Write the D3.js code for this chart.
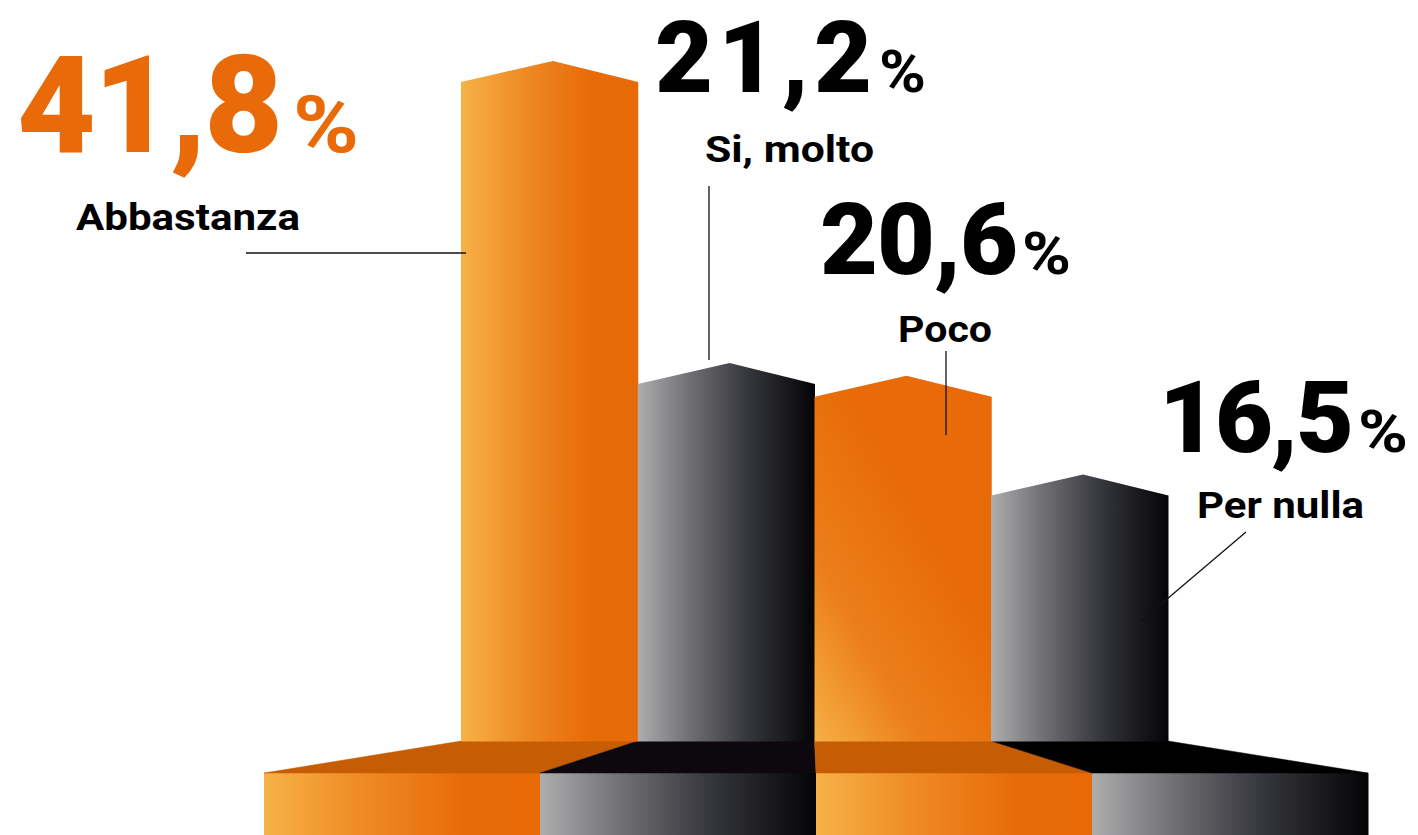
<!DOCTYPE html>
<html>
<head>
<meta charset="utf-8">
<script src="https://cdn.jsdelivr.net/npm/d3@7"></script>
<style>
  body { margin: 0; background: #fff; }
  svg { display: block; }
  text { font-family: Roboto, "Liberation Sans", sans-serif; }
</style>
</head>
<body>
<script>
// data
var categories = ["Abbastanza", "Si, molto", "Poco", "Per nulla"];
var values = [41.8, 21.2, 20.6, 16.5];

var width = 1418, height = 835;

var svg = d3.select("body").append("svg")
    .attr("width", width)
    .attr("height", height);

// scales
var x = d3.scaleBand().domain(categories).range([461, 1168]).padding(0);
var xBase = d3.scaleBand().domain(categories).range([264, 1368]).padding(0);
var y = d3.scaleLog().domain([9.5, 41.8]).range([741, 82]);
var floorY = 741, plinthY = 773, peak = 21;

// gradients
var defs = svg.append("defs");
function grad(id, stops, x1, y1, x2, y2) {
  var g = defs.append("linearGradient").attr("id", id)
      .attr("x1", x1).attr("y1", y1).attr("x2", x2).attr("y2", y2);
  stops.forEach(function(s) {
    g.append("stop").attr("offset", s[0]).attr("stop-color", s[1]);
  });
}
grad("orangeH", [[0, "#f6b247"], [0.35, "#ef8b24"], [0.72, "#e86b09"], [1, "#e76a07"]], 0, 0, 1, 0);
grad("grayH", [[0, "#adadae"], [0.3, "#6e6e73"], [0.62, "#35363b"], [1, "#040407"]], 0, 0, 1, 0);
grad("orangeD", [[0, "#f6b046"], [0.45, "#ec7f1a"], [1, "#e86a08"]], 0, 1, 0.55, 0.35);

var isOrange = function(i) { return i % 2 === 0; };
var fillOf = function(i) { return i === 2 ? "url(#orangeD)" : (isOrange(i) ? "url(#orangeH)" : "url(#grayH)"); };

// plinth (front blocks)
svg.append("g").selectAll("rect")
  .data(categories)
  .join("rect")
    .attr("x", function(d) { return xBase(d); })
    .attr("y", plinthY)
    .attr("width", xBase.bandwidth() + 0.5)
    .attr("height", height - plinthY + 5)
    .attr("fill", function(d, i) { return isOrange(i) ? "url(#orangeH)" : "url(#grayH)"; });

// plinth top (dark trapezoids)
svg.append("g").selectAll("path")
  .data(categories)
  .join("path")
    .attr("d", function(d) {
      var a = x(d), b = x(d) + x.bandwidth();
      var c = xBase(d), e = xBase(d) + xBase.bandwidth();
      return "M" + a + "," + floorY + "L" + b + "," + floorY +
             "L" + e + "," + plinthY + "L" + c + "," + plinthY + "Z";
    })
    .attr("fill", function(d, i) { return isOrange(i) ? "#c65c04" : (i === 3 ? "#000" : "#0d080d"); })
    .attr("stroke", function(d, i) { return isOrange(i) ? "#c65c04" : (i === 3 ? "#000" : "#0d080d"); })
    .attr("stroke-width", 0.5);

// bars with pointed tops
svg.append("g").selectAll("path")
  .data(values)
  .join("path")
    .attr("d", function(v, i) {
      var x0 = x(categories[i]), x1 = x0 + x.bandwidth() + 0.5, top = y(v);
      var px = x0 + x.bandwidth() * 0.52;
      return "M" + x0 + "," + (floorY + 0.5) + "L" + x0 + "," + top +
             "L" + px + "," + (top - peak) + "L" + x1 + "," + top +
             "L" + x1 + "," + (floorY + 0.5) + "Z";
    })
    .attr("fill", function(v, i) { return fillOf(i); });

// leader lines
var leaders = [
  [246, 253, 466, 253],
  [709, 186, 709, 360],
  [946, 351, 946, 435],
  [1246, 532, 1140, 622]
];
svg.append("g").selectAll("line")
  .data(leaders)
  .join("line")
    .attr("x1", function(d) { return d[0]; })
    .attr("y1", function(d) { return d[1]; })
    .attr("x2", function(d) { return d[2]; })
    .attr("y2", function(d) { return d[3]; })
    .attr("stroke", "#111")
    .attr("stroke-width", 1.3);

// value and category labels
var fmt = function(v) { return d3.format(".1f")(v).replace(".", ","); };
var labelPos = [
  { nx: 17, nw: 266, ny: 152, ns: 136, px: 293, pw: 66, ps: 80, col: "#e86a08", lx: 76, lw: 224, ly: 230 },
  { nx: 655, nw: 217, ny: 92, ns: 100, px: 879, pw: 47, ps: 59, col: "#000", lx: 705, lw: 169, ly: 162 },
  { nx: 820, nw: 198, ny: 274, ns: 100, px: 1022, pw: 49, ps: 59, col: "#000", lx: 898, lw: 94, ly: 342 },
  { nx: 1159, nw: 195, ny: 452, ns: 100, px: 1358, pw: 50, ps: 59, col: "#000", lx: 1197, lw: 167, ly: 518 }
];

var lab = svg.append("g").selectAll("g")
  .data(values)
  .join("g");

lab.append("text")
    .attr("x", function(v, i) { return labelPos[i].nx; })
    .attr("y", function(v, i) { return labelPos[i].ny; })
    .attr("font-size", function(v, i) { return labelPos[i].ns; })
    .attr("font-weight", 900)
    .attr("textLength", function(v, i) { return labelPos[i].nw; })
    .attr("lengthAdjust", "spacing")
    .attr("fill", function(v, i) { return labelPos[i].col; })
    .text(fmt);

lab.append("text")
    .attr("x", function(v, i) { return labelPos[i].px; })
    .attr("y", function(v, i) { return labelPos[i].ny; })
    .attr("font-size", function(v, i) { return labelPos[i].ps; })
    .attr("font-weight", 700)
    .attr("textLength", function(v, i) { return labelPos[i].pw; })
    .attr("lengthAdjust", "spacingAndGlyphs")
    .attr("fill", function(v, i) { return labelPos[i].col; })
    .text("%");

lab.append("text")
    .attr("x", function(v, i) { return labelPos[i].lx; })
    .attr("y", function(v, i) { return labelPos[i].ly; })
    .attr("font-size", 37)
    .attr("font-weight", 700)
    .attr("textLength", function(v, i) { return labelPos[i].lw; })
    .attr("lengthAdjust", "spacingAndGlyphs")
    .attr("fill", "#000")
    .text(function(v, i) { return categories[i]; });
</script>
</body>
</html>
